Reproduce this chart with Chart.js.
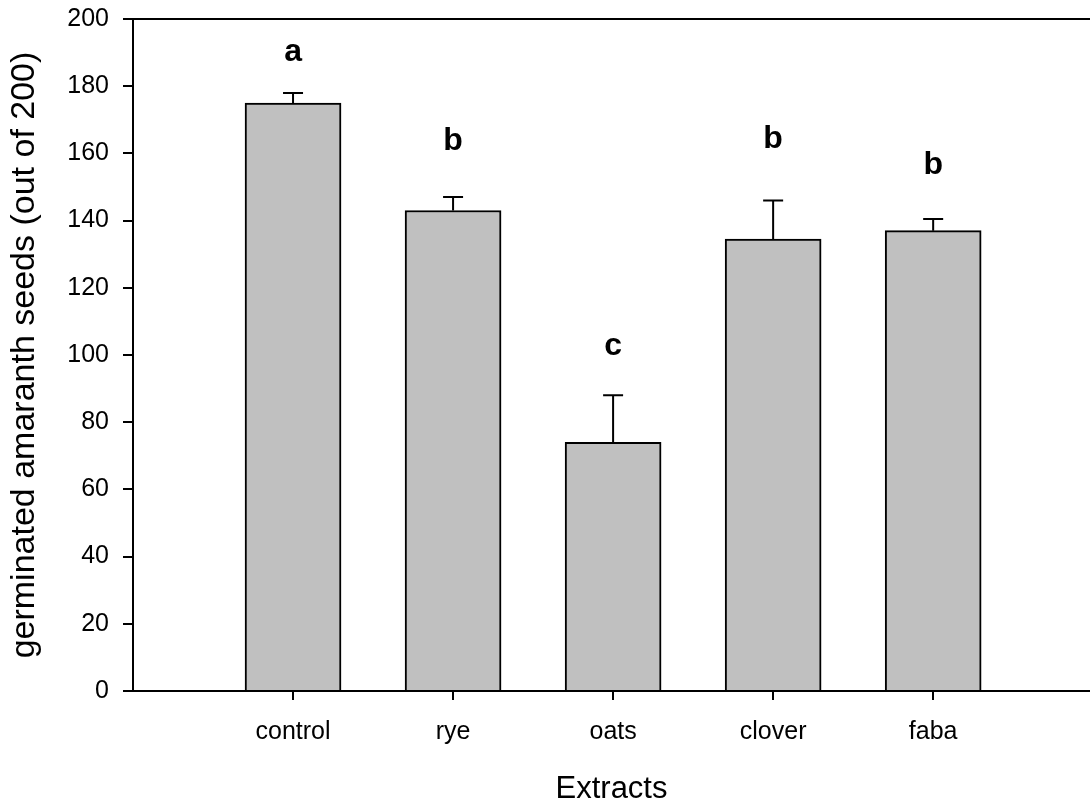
<!DOCTYPE html>
<html>
<head>
<meta charset="utf-8">
<title>Germinated amaranth seeds</title>
<script src="https://cdn.jsdelivr.net/npm/chart.js@4/dist/chart.umd.min.js"></script>
<style>
  html, body { margin: 0; padding: 0; background: #fff; }
  #wrap { width: 1090px; height: 805px; }
</style>
</head>
<body>
<div id="wrap"><canvas id="seedChart"></canvas></div>
<script>
const extracts = ["control", "rye", "oats", "clover", "faba"];
const germinated = [175, 143, 74, 134.5, 137];
const stdErr = [3, 4, 14, 11.5, 3.5];
const groupLetters = ["a", "b", "c", "b", "b"];
// baseline height (in seeds) of each significance letter
const letterHeights = [187.5, 161, 100, 161.5, 154];
const yTicks = [0, 20, 40, 60, 80, 100, 120, 140, 160, 180, 200];

const FONT = 'Arial, "Liberation Sans", sans-serif';

// error bars, letters and the top frame line
const extras = {
  id: "extras",
  afterDatasetsDraw(chart) {
    const { ctx, chartArea } = chart;
    const x = chart.scales.x;
    const y = chart.scales.y;
    ctx.save();
    ctx.strokeStyle = "#000";
    ctx.lineWidth = 2;
    germinated.forEach((v, i) => {
      const px = x.getPixelForValue(i + 1);
      const top = y.getPixelForValue(v + stdErr[i]);
      ctx.beginPath();
      ctx.moveTo(px, y.getPixelForValue(v));
      ctx.lineTo(px, top);
      ctx.moveTo(px - 10, top);
      ctx.lineTo(px + 10, top);
      ctx.stroke();
    });

    ctx.beginPath();
    ctx.moveTo(chartArea.left - 1, chartArea.top);
    ctx.lineTo(chartArea.right, chartArea.top);
    ctx.stroke();

    ctx.fillStyle = "#000";
    ctx.font = "bold 32px " + FONT;
    ctx.textAlign = "center";
    ctx.textBaseline = "alphabetic";
    groupLetters.forEach((l, i) => {
      ctx.fillText(l, x.getPixelForValue(i + 1), y.getPixelForValue(letterHeights[i]));
    });
    ctx.restore();
  }
};

new Chart(document.getElementById("seedChart"), {
  type: "bar",
  data: {
    datasets: [{
      data: germinated.map((v, i) => ({ x: i + 1, y: v })),
      backgroundColor: "#c0c0c0",
      borderColor: "#000",
      borderWidth: 2,
      barThickness: 96
    }]
  },
  options: {
    responsive: true,
    maintainAspectRatio: false,
    animation: false,
    layout: { padding: { top: 19, right: 0, bottom: 0, left: 0 } },
    plugins: {
      legend: { display: false },
      tooltip: { enabled: false }
    },
    scales: {
      x: {
        type: "linear",
        offset: false,
        min: 0,
        max: 5.98,
        afterBuildTicks: (scale) => {
          scale.ticks = extracts.map((_, i) => ({ value: i + 1 }));
        },
        afterFit: (scale) => {
          scale.height = 114;
          scale.paddingLeft = 0;
          scale.paddingRight = 0;
        },
        ticks: {
          callback: (v) => extracts[v - 1],
          color: "#000",
          font: { family: FONT, size: 25 },
          padding: 17,
          maxRotation: 0,
          autoSkip: false
        },
        grid: {
          display: true,
          offset: false,
          drawOnChartArea: false,
          drawTicks: true,
          tickLength: 9,
          color: "#000",
          lineWidth: 2
        },
        border: { display: true, color: "#000", width: 2 },
        title: {
          display: true,
          text: "Extracts",
          color: "#000",
          font: { family: FONT, size: 31, lineHeight: 1 },
          padding: 0
        }
      },
      y: {
        min: 0,
        max: 200,
        afterBuildTicks: (scale) => {
          scale.ticks = yTicks.map((v) => ({ value: v }));
        },
        afterFit: (scale) => {
          scale.width = 133;
          scale.paddingTop = 0;
          scale.paddingBottom = 0;
        },
        ticks: {
          color: "#000",
          font: { family: FONT, size: 25 },
          padding: 14
        },
        grid: {
          display: true,
          drawOnChartArea: false,
          drawTicks: true,
          tickLength: 10,
          color: "#000",
          lineWidth: 2
        },
        border: { display: true, color: "#000", width: 2 },
        title: {
          display: true,
          text: "germinated amaranth seeds (out of 200)",
          color: "#000",
          font: { family: FONT, size: 34, lineHeight: 1 },
          padding: { top: 8, bottom: 0 }
        }
      }
    }
  },
  plugins: [extras]
});
</script>
</body>
</html>
